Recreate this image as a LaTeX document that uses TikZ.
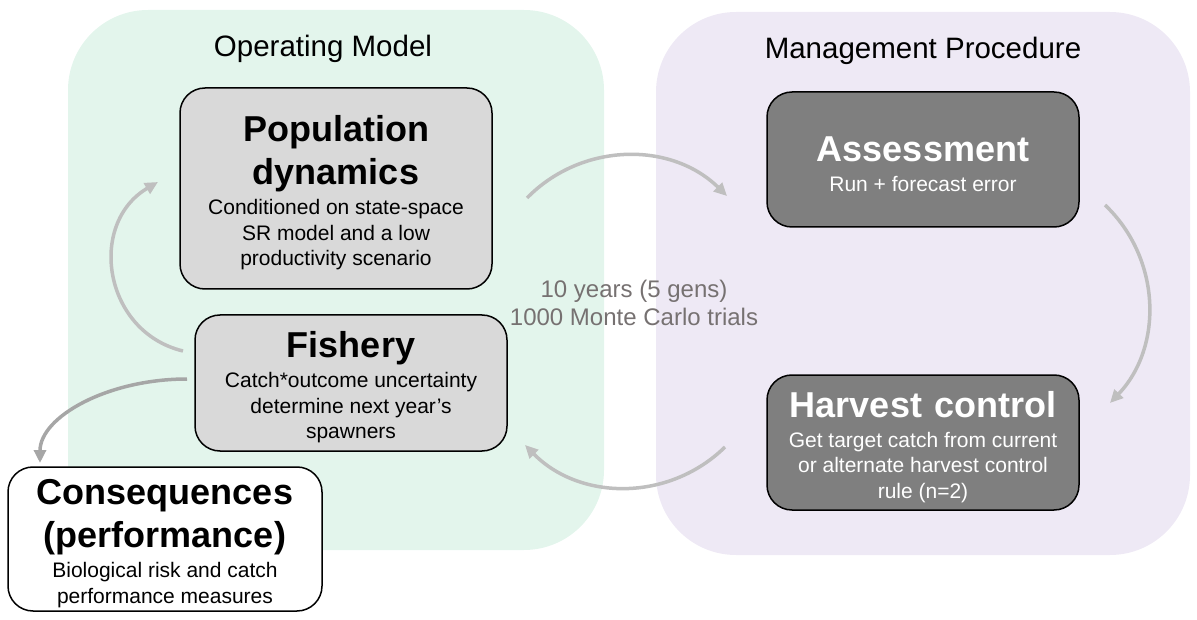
\documentclass[tikz,border=0pt]{standalone}
\usepackage{fontspec}
\setmainfont{Liberation Sans}
\usetikzlibrary{arrows.meta}

\definecolor{omgreen}{HTML}{E3F5EC}
\definecolor{mppurple}{HTML}{EEE9F5}
\definecolor{boxlight}{HTML}{D9D9D9}
\definecolor{boxdark}{HTML}{7F7F7F}
\definecolor{loopgrey}{HTML}{BFBFBF}
\definecolor{outgrey}{HTML}{A6A6A6}
\definecolor{notegrey}{HTML}{767171}

% smaller lines under a box title; the negative kern lowers the whole text a little
\newcommand{\boxsub}[1]{\par\vskip4.5pt\centering\fontsize{21}{25.5}\selectfont\mdseries
    \spaceskip=0pt\xspaceskip=0pt #1\par\kern-9pt}

\begin{document}
\begin{tikzpicture}[x=1pt,y=1pt,>={Triangle[length=13pt,width=12pt]}]
    \tikzset{
        panel/.style={rounded corners=80pt},
        paneltitle/.style={anchor=base,font=\fontsize{29.5}{35}\selectfont},
        stage/.style={draw,line width=1.5pt,rounded corners=25pt,align=center,
            text width=300pt,inner sep=0pt,minimum width=312pt,
            font=\fontsize{36}{43}\selectfont\bfseries},
        loop/.style={->,line width=3.5pt,loopgrey},
        note/.style={align=center,text=notegrey,font=\fontsize{24}{28}\selectfont}
    }
    \useasboundingbox (0,0) rectangle (1197,-620);

    % two halves of the loop
    \fill[panel,omgreen] (68,-10) rectangle (604,-550);
    \fill[panel,mppurple] (656,-12) rectangle (1190,-555);
    \node[paneltitle] (omtitle) at (323,-57) {Operating Model};
    \node[paneltitle] (mptitle) at (923,-59) {Management Procedure};

    \node[stage,fill=boxlight,minimum height=201pt] (popdyn) at (336,-188.5)
        {Population\\dynamics\boxsub{Conditioned on state-space\\SR model and a low\\productivity scenario}};
    \node[stage,fill=boxlight,minimum height=136pt] (fishery) at (351,-383)
        {Fishery\boxsub{Catch*outcome uncertainty\\determine next year’s\\spawners}};
    \node[stage,fill=boxdark,text=white,minimum height=135pt] (assess) at (923,-159.5)
        {Assessment\boxsub{Run + forecast error}};
    \node[stage,fill=boxdark,text=white,minimum height=135pt] (hcr) at (923,-442.5)
        {Harvest control\boxsub{Get target catch from current\\or alternate harvest control\\rule (n=2)}};
    \node[stage,fill=white,minimum width=314pt,minimum height=144pt] (conseq) at (165,-539)
        {Consequences\\(performance)\boxsub{Biological risk and catch\\performance measures}};

    \node[note] (trials) at (634,-303) {10 years (5 gens)\\1000 Monte Carlo trials};

    % loop arrows
    \coordinate (fishUp) at (183,-351);
    \coordinate (popIn) at (158,-182);
    \coordinate (popOut) at (527,-198);
    \coordinate (assessIn) at (727,-196);
    \coordinate (assessOut) at (1105,-205);
    \coordinate (hcrIn) at (1110,-403);
    \coordinate (hcrOut) at (725,-447);
    \coordinate (fishIn) at (525,-445);
    \coordinate (fishOut) at (187,-379);
    \coordinate (conseqIn) at (40,-463);

    \draw[loop] (fishUp) to[bend left=68,looseness=1.23] (popIn);
    \draw[loop] (popOut) to[bend left=45] (assessIn);
    \draw[loop] (assessOut) to[bend left=45] (hcrIn);
    \draw[loop] (hcrOut) to[bend left=45] (fishIn);
    \draw[loop,outgrey] (fishOut) to[out=180,in=90,out looseness=1.2,in looseness=0.7] (conseqIn);
\end{tikzpicture}
\end{document}
